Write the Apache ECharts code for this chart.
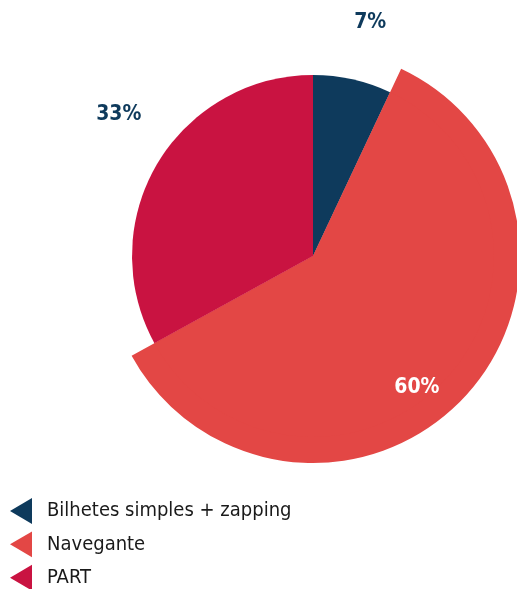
<!DOCTYPE html>
<html>
<head>
<meta charset="utf-8">
<script src="https://cdn.jsdelivr.net/npm/echarts@6/dist/echarts.min.js"></script>
<style>
html,body{margin:0;padding:0;background:#fff;}
#chart{width:517px;height:589px;}
</style>
</head>
<body>
<div id="chart"></div>
<script>
// Data
var categories = ['Bilhetes simples + zapping', 'Navegante', 'PART'];
var shares = [7, 60, 33];
var labelTexts = ['7%', '60%', '33%'];

// Styles
var colors = ['#0e3a5c', '#e34745', '#c91341'];
var labelColors = ['#0e3a5c', '#ffffff', '#0e3a5c'];
var CX = 313, CY = 256;
var FONT = '"DejaVu Sans Condensed", "Liberation Sans Narrow", sans-serif';
// label placement (polar, from pie centre): radius px, angle deg clockwise from top
var labelPolar = [[240, 13.8], [168, 141.8], [240, 306.0]];

var chart = echarts.init(document.getElementById('chart'), null, {renderer: 'canvas'});

var baseData = categories.map(function (c, i) {
  return {
    name: c, value: shares[i],
    itemStyle: {color: colors[i]},
    label: {color: labelColors[i]}
  };
});
var bigData = categories.map(function (c, i) {
  return {
    name: c, value: shares[i],
    itemStyle: {color: i === 1 ? colors[i] : 'rgba(0,0,0,0)'}
  };
});

var option = {
  animation: false,
  backgroundColor: '#ffffff',
  legend: {
    orient: 'vertical',
    left: 10,
    top: 498,
    height: 120,
    padding: 0,
    itemWidth: 22,
    itemHeight: 26,
    itemGap: 7.5,
    icon: 'path://M0,50 L85,0 L85,100 Z',
    data: categories,
    textStyle: {
      fontFamily: FONT,
      fontSize: 20,
      color: '#1a1a1a',
      padding: [0, 0, 0, 10]
    },
    selectedMode: false
  },
  series: [
    {
      type: 'pie',
      name: 'base',
      center: [CX, CY],
      radius: [0, 181],
      startAngle: 90,
      clockwise: true,
      avoidLabelOverlap: false,
      silent: true,
      label: {
        show: true,
        position: 'outside',
        formatter: function (p) { return labelTexts[p.dataIndex]; },
        fontFamily: FONT,
        fontWeight: 'bold',
        fontSize: 21
      },
      labelLine: {show: false},
      labelLayout: function (params) {
        var lp = labelPolar[params.dataIndex];
        var a = lp[1] * Math.PI / 180;
        return {
          x: CX + lp[0] * Math.sin(a),
          y: CY - lp[0] * Math.cos(a),
          align: 'center',
          verticalAlign: 'middle'
        };
      },
      data: baseData,
      z: 2
    },
    {
      type: 'pie',
      name: 'big',
      center: [CX, CY],
      radius: [0, 207],
      startAngle: 90,
      clockwise: true,
      silent: true,
      label: {show: false},
      labelLine: {show: false},
      data: bigData,
      z: 1
    }
  ]
};
chart.setOption(option);
</script>
</body>
</html>
